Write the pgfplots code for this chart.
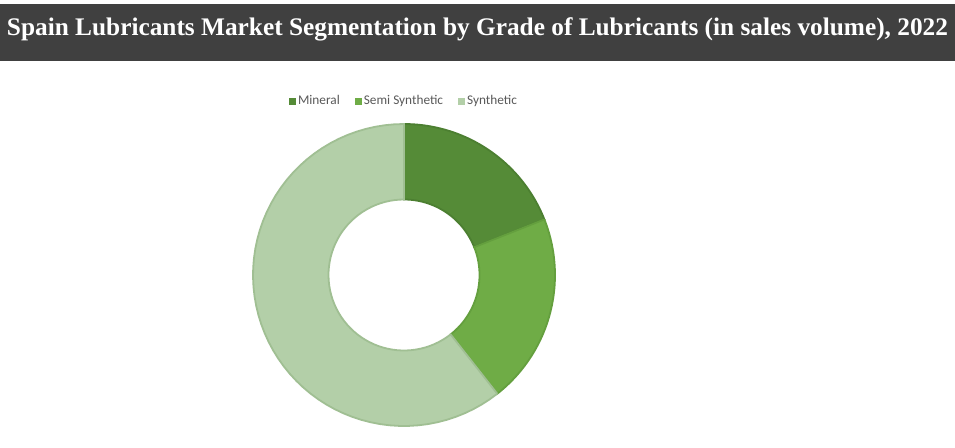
\documentclass[border=0pt]{standalone}
\usepackage{pgfplots}
\pgfplotsset{compat=1.18}
\usepackage{pgfplotstable}
\usepackage{fontspec}
\setmainfont{Carlito}
\newfontfamily\titlefont{Liberation Serif}
\definecolor{titlebg}{HTML}{404040}
\definecolor{cMin}{HTML}{558B37}
\definecolor{cMinE}{HTML}{4C7F31}
\definecolor{cSemi}{HTML}{6FAC46}
\definecolor{cSemiE}{HTML}{649F3E}
\definecolor{cSyn}{HTML}{B3CFA8}
\definecolor{cSynE}{HTML}{A0BF93}
\definecolor{legtext}{HTML}{595959}
\pgfplotstableread{
grade value
Mineral 19.0
SemiSynthetic 20.4
Synthetic 60.6
}\datatable
\pgfplotstablegetelem{0}{value}\of\datatable \let\vA\pgfplotsretval
\pgfplotstablegetelem{1}{value}\of\datatable \let\vB\pgfplotsretval
\pgfplotstablegetelem{2}{value}\of\datatable \let\vC\pgfplotsretval
\pgfmathsetmacro\tot{\vA+\vB+\vC}
\pgfmathsetmacro\aA{90}
\pgfmathsetmacro\aB{90-360*\vA/\tot}
\pgfmathsetmacro\aC{\aB-360*\vB/\tot}
\pgfmathsetmacro\aD{90-360}
\newcommand\ring[3]{%
\addplot[#3, samples at={0,...,122}, variable=\t]
 ({(\t<61 ? 1 : (\t<122 ? 0.5 : 1))*cos(\t<61 ? #1+(#2-#1)*\t/60 : (\t<122 ? #2-(#2-#1)*(\t-61)/60 : #1))},
  {(\t<61 ? 1 : (\t<122 ? 0.5 : 1))*sin(\t<61 ? #1+(#2-#1)*\t/60 : (\t<122 ? #2-(#2-#1)*(\t-61)/60 : #1))});
}
\begin{document}
\begin{tikzpicture}
\path[fill=white] (0pt,0pt) rectangle (955pt,-447pt);
\fill[titlebg] (0pt,-4pt) rectangle (955pt,-61pt);
\node[anchor=base, text=white, inner sep=0pt] at (477.5pt,-35.5pt)
 {\resizebox{941pt}{!}{\titlefont\bfseries\fontsize{24pt}{28pt}\selectfont Spain Lubricants Market Segmentation by Grade of Lubricants (in sales volume), 2022}};
\begin{axis}[
  at={(404pt,-275pt)}, anchor=center,
  scale only axis, width=302pt, height=302pt,
  xmin=-1, xmax=1, ymin=-1, ymax=1,
  hide axis, clip=false,
  legend columns=-1,
  legend image code/.code={\fill[#1, draw=none] (0pt,-3.5pt) rectangle (7pt,3.5pt);},
  legend style={draw=none, fill=none, at={(0.5,1.076)}, anchor=center,
    font=\fontsize{13.3pt}{15pt}\selectfont, text=legtext,
    nodes={inner sep=2pt},
    /tikz/every odd column/.append style={column sep=0pt},
    /tikz/every even column/.append style={column sep=13pt}},
]
\ring{\aA}{\aB}{fill=cMin, draw=cMinE, line width=1.8pt, forget plot}
\ring{\aB}{\aC}{fill=cSemi, draw=cSemiE, line width=1.8pt, forget plot}
\ring{\aC}{\aD}{fill=cSyn, draw=cSynE, line width=1.8pt, forget plot}
\addlegendimage{fill=cMin, draw=none}
\addlegendimage{fill=cSemi, draw=none}
\addlegendimage{fill=cSyn, draw=none}
\legend{Mineral, Semi Synthetic, Synthetic}
\end{axis}
\end{tikzpicture}
\end{document}
